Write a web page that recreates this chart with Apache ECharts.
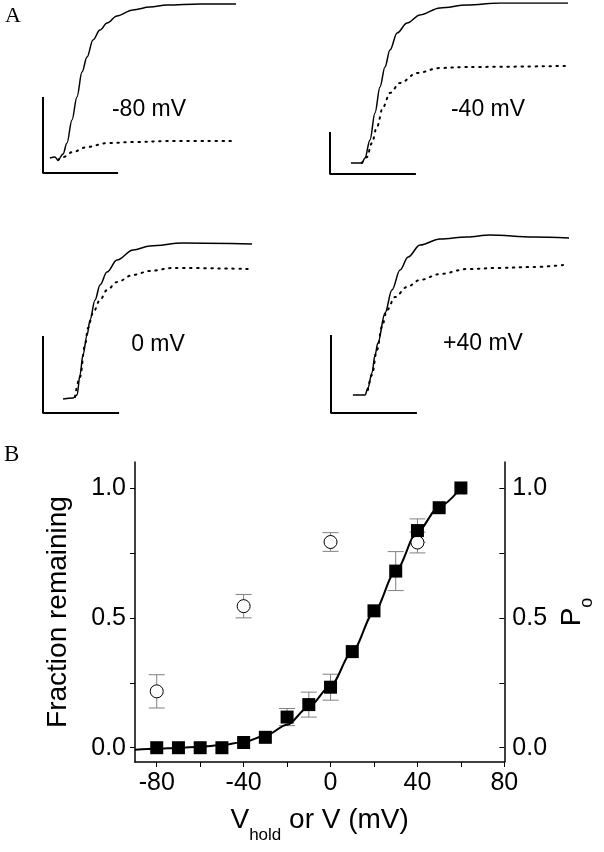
<!DOCTYPE html>
<html>
<head>
<meta charset="utf-8">
<script src="https://cdn.jsdelivr.net/npm/echarts@6/dist/echarts.min.js"></script>
<style>
html,body{margin:0;padding:0;background:#fff;}
#chart{width:604px;height:852px;}
</style>
</head>
<body>
<div id="chart"></div>
<script>
// ---------- Panel A: current traces (time and amplitude in panel-relative units) ----------
const tlBar = [[0, 44.7], [0, 0], [38.9, 0]];
const tlSolid = [[3.6,8.8],[6.2,9.4],[7.8,7.6],[10.4,11.2],[12.4,17.6],[15.0,31.2],[17.6,44.7],[20.2,59.4],[22.8,68.2],[25.9,78.2],[29.5,84.1],[33.2,88.2],[38.3,92.4],[46.6,95.9],[55.4,97.6],[64.2,98.8],[81.3,99.4],[100,99.4]];
const tlDotted = [[7.8,7.6],[10.4,9.4],[15.5,12.4],[22.8,15.3],[33.2,17.6],[46.6,18.2],[64.2,18.8],[100,18.8]];

const trBar = [[0, 24.6], [0, 0], [36.1, 0]];
const trSolid = [[8.8,6.4],[13.4,6.4],[14.7,9.4],[16.8,19.9],[18.9,35.7],[21.0,50.9],[23.1,62.6],[25.2,72.5],[28.2,82.5],[32.4,88.3],[37.8,93.0],[46.2,97.1],[57.6,98.8],[71.4,100],[100,100]];
const trDotted = [[13.4,6.4],[15.5,9.9],[17.6,18.1],[19.7,27.5],[22.3,39.2],[25.2,47.4],[29.4,53.2],[36.6,59.1],[46.2,62.0],[57.6,62.6],[100,63.2]];

const blBar = [[0, 42.8], [0, 0], [36.4, 0]];
const blSolid = [[9.6,7.8],[14.4,8.3],[16.3,10.0],[17.7,21.1],[19.1,32.2],[21.1,43.3],[22.5,51.7],[24.9,62.8],[27.3,71.1],[30.6,78.3],[35.4,85.0],[43.1,90.6],[51.2,92.8],[67.0,94.4],[100,93.9]];
const blDotted = [[15.3,8.9],[17.7,20.0],[20.1,37.8],[21.5,47.2],[23.9,55.6],[27.3,62.8],[30.6,68.3],[35.4,72.8],[43.1,76.7],[51.2,78.9],[62.2,80.6],[100,80.0]];

const brBar = [[0, 43.3], [0, 0], [36.1, 0]];
const brSolid = [[9.2,10.0],[14.3,10.0],[15.5,13.9],[17.2,22.2],[18.5,32.2],[19.7,38.9],[22.7,55.6],[25.6,68.3],[29.0,79.4],[32.4,86.7],[37.4,93.3],[45.8,96.7],[57.1,97.8],[66.8,98.9],[84.9,97.8],[100,97.2]];
const brDotted = [[15.5,12.8],[17.2,21.1],[19.3,35.0],[21.4,47.8],[23.5,57.2],[26.9,64.4],[31.9,70.0],[37.4,73.9],[45.8,77.2],[57.1,80.0],[71.0,80.6],[84.9,81.1],[97.5,82.2]];

const traceLabels = ['-80 mV', '-40 mV', '0 mV', '+40 mV'];

// ---------- Panel B ----------
const voltages = [-80,-70,-60,-50,-40,-30,-20,-10,0,10,20,30,40,50,60];
const fraction = [0,0,0,0,0.02,0.04,0.118,0.166,0.233,0.37,0.527,0.68,0.836,0.924,1.0];
const fractionErr = [0,0,0,0,0,0,0.033,0.048,0.05,0,0,0.075,0.045,0,0];

const poVoltages = [-80,-40,0,40];
const po = [0.217,0.545,0.792,0.79];
const poErr = [0.064,0.045,0.036,0.04];

const fitV = [-90,-80,-70,-60,-50,-40,-30,-20,-10,0,10,20,30,40,50,60];
const fitY = [-0.008,-0.004,-0.001,0.004,0.01,0.022,0.046,0.088,0.158,0.238,0.37,0.522,0.68,0.832,0.928,1.0];

const xTicks = [-80,-60,-40,-20,0,20,40,60,80];
const xTickLabels = [-80,-40,0,40,80];
const yTicks = [0,0.25,0.5,0.75,1.0];
const yTickLabels = [0,0.5,1.0];

// ---------- build ----------
const chart = echarts.init(document.getElementById('chart'), null, {renderer:'canvas'});
const F = 'Liberation Sans, Arial, sans-serif';

const panels = [
  {left:43, top:3, width:193, height:170, bar:tlBar, solid:tlSolid, dotted:tlDotted},
  {left:330, top:3, width:238, height:171, bar:trBar, solid:trSolid, dotted:trDotted},
  {left:43, top:233, width:209, height:180, bar:blBar, solid:blSolid, dotted:blDotted},
  {left:331, top:233, width:238, height:180, bar:brBar, solid:brSolid, dotted:brDotted}
];

const grids = [], xAxes = [], yAxes = [], series = [];
panels.forEach((p, i) => {
  grids.push({left:p.left, top:p.top, width:p.width, height:p.height});
  xAxes.push({type:'value', gridIndex:i, min:0, max:100, show:false});
  yAxes.push({type:'value', gridIndex:i, min:0, max:100, show:false});
  const base = {type:'line', xAxisIndex:i, yAxisIndex:i, showSymbol:false, symbol:'none', silent:true, animation:false};
  series.push(Object.assign({}, base, {data:p.bar, lineStyle:{color:'#000', width:2}}));
  series.push(Object.assign({}, base, {data:p.dotted, smooth:0.35, smoothMonotone:'x', lineStyle:{color:'#000', width:2, type:[1.5,5.5], cap:'round'}}));
  series.push(Object.assign({}, base, {data:p.solid, smooth:0.35, smoothMonotone:'x', lineStyle:{color:'#000', width:1.5}}));
});

// Panel B grid (index 4)
grids.push({left:135, right:95, top:462, bottom:90});
const axisLineStyle = {show:true, onZero:false, lineStyle:{color:'#000', width:1.5}};
xAxes.push({
  type:'value', gridIndex:4, min:-90, max:80,
  axisLine:axisLineStyle,
  axisTick:{show:true, customValues:xTicks, length:5, lineStyle:{color:'#000', width:1}},
  axisLabel:{customValues:xTickLabels, fontFamily:F, fontSize:25, color:'#000', margin:9},
  splitLine:{show:false},
  name:'{a|V}{b|hold}{a| or V (mV)}', nameLocation:'middle', nameGap:44,
  nameTextStyle:{rich:{
    a:{fontFamily:F, fontSize:28, color:'#000', verticalAlign:'top'},
    b:{fontFamily:F, fontSize:17, color:'#000', verticalAlign:'top', padding:[21,0,0,0]}
  }}
});
const yCommon = {
  type:'value', gridIndex:4, min:-0.055, max:1.1,
  axisLine:axisLineStyle,
  splitLine:{show:false},
  nameLocation:'middle'
};
yAxes.push(Object.assign({}, yCommon, {
  position:'left',
  axisTick:{show:true, customValues:yTicks, length:5, lineStyle:{color:'#000', width:1}},
  axisLabel:{customValues:yTickLabels, fontFamily:F, fontSize:25, color:'#000', margin:9, formatter:v=>v.toFixed(1)},
  name:'Fraction remaining', nameGap:63, nameRotate:90,
  nameTextStyle:{fontFamily:F, fontSize:28, color:'#000'}
}));
yAxes.push(Object.assign({}, yCommon, {
  position:'right',
  axisTick:{show:true, inside:true, customValues:yTicks, length:5, lineStyle:{color:'#000', width:1}},
  axisLabel:{customValues:yTickLabels, fontFamily:F, fontSize:25, color:'#000', margin:8, formatter:v=>v.toFixed(1)},
  name:'{a|P}{b|o}', nameGap:52, nameRotate:90,
  nameTextStyle:{rich:{
    a:{fontFamily:F, fontSize:28, color:'#000', verticalAlign:'top'},
    b:{fontFamily:F, fontSize:18, color:'#000', verticalAlign:'top', padding:[20,0,0,0]}
  }}
}));

function errData(xs, ys, es) {
  const out = [];
  xs.forEach((x, i) => { if (es[i] > 0) out.push([x, ys[i] - es[i], ys[i] + es[i]]); });
  return out;
}
function errRender(params, api) {
  const x = api.value(0);
  const lo = api.coord([x, api.value(1)]);
  const hi = api.coord([x, api.value(2)]);
  const hw = 8;
  const st = {stroke:'#808080', lineWidth:1};
  return {type:'group', children:[
    {type:'line', shape:{x1:lo[0], y1:lo[1], x2:hi[0], y2:hi[1]}, style:st},
    {type:'line', shape:{x1:lo[0]-hw, y1:lo[1], x2:lo[0]+hw, y2:lo[1]}, style:st},
    {type:'line', shape:{x1:hi[0]-hw, y1:hi[1], x2:hi[0]+hw, y2:hi[1]}, style:st}
  ]};
}
series.push({type:'custom', xAxisIndex:4, yAxisIndex:4, renderItem:errRender, data:errData(poVoltages, po, poErr), z:1, silent:true, animation:false});
series.push({type:'custom', xAxisIndex:4, yAxisIndex:4, renderItem:errRender, data:errData(voltages, fraction, fractionErr), z:1, silent:true, animation:false});
series.push({type:'line', xAxisIndex:4, yAxisIndex:4, data:fitV.map((v,i)=>[v, fitY[i]]), smooth:0.3, smoothMonotone:'x', showSymbol:false, symbol:'none', lineStyle:{color:'#000', width:2}, z:2, silent:true, animation:false});
series.push({type:'scatter', xAxisIndex:4, yAxisIndex:4, data:poVoltages.map((v,i)=>[v, po[i]]), symbol:'circle', symbolSize:13, itemStyle:{color:'#fff', borderColor:'#000', borderWidth:1, opacity:1}, z:3, silent:true, animation:false});
series.push({type:'scatter', xAxisIndex:4, yAxisIndex:4, data:voltages.map((v,i)=>[v, fraction[i]]), symbol:'rect', symbolSize:13, itemStyle:{color:'#000', opacity:1}, z:4, silent:true, animation:false});

const labelPos = [[149,110],[488,110],[158,345],[483,344]];
const graphics = [
  {type:'text', left:5, top:5, style:{text:'A', font:'22px "Liberation Serif", serif', fill:'#000'}},
  {type:'text', left:4, top:443, style:{text:'B', font:'23px "Liberation Serif", serif', fill:'#000'}}
];
traceLabels.forEach((t, i) => {
  graphics.push({type:'text', x:labelPos[i][0], y:labelPos[i][1], style:{text:t, font:'23px "Liberation Sans", Arial, sans-serif', fill:'#000', align:'center', verticalAlign:'middle'}});
});

chart.setOption({
  backgroundColor:'#fff',
  animation:false,
  grid:grids, xAxis:xAxes, yAxis:yAxes, series:series, graphic:graphics
});
</script>
</body>
</html>
